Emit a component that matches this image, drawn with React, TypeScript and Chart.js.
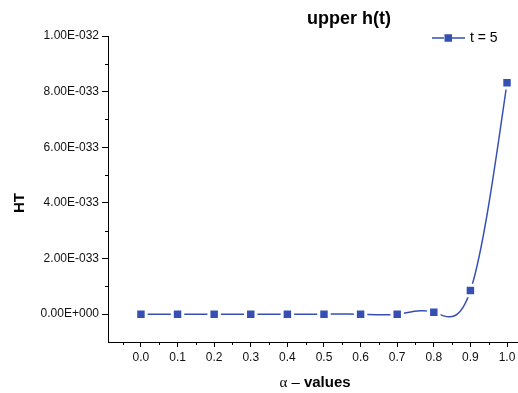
import React, { useEffect, useRef } from 'react';
import { Chart, registerables } from 'chart.js';

Chart.register(...registerables);

const ALPHA = [0.0, 0.1, 0.2, 0.3, 0.4, 0.5, 0.6, 0.7, 0.8, 0.9, 1.0];
const HT = [0, 0, 0, 0, 0, 0, 0, 0, 7e-35, 8.5e-34, 8.32e-33];
const X_TICKS = [0.0, 0.1, 0.2, 0.3, 0.4, 0.5, 0.6, 0.7, 0.8, 0.9, 1.0];
const X_MINOR = [-0.05, 0.05, 0.15, 0.25, 0.35, 0.45, 0.55, 0.65, 0.75, 0.85, 0.95];
const Y_TICKS = [0, 2e-33, 4e-33, 6e-33, 8e-33, 1e-32];
const Y_MINOR = [1e-33, 3e-33, 5e-33, 7e-33, 9e-33];
const TITLE = 'upper h(t)';
const SERIES_LABEL = 't = 5';
const Y_TITLE = 'HT';
const X_TITLE_PARTS = ['α', ' – ', 'values'];

const BLUE = '#3550B2';
const SANS = '"Liberation Sans", Arial, sans-serif';

function fmtE(v: number): string {
  if (v === 0) return '0.00E+000';
  const s = v.toExponential(2);
  const [m, e] = s.split('e');
  const sign = e[0] === '-' ? '-' : '+';
  const digits = e.replace(/^[+-]/, '').padStart(3, '0');
  return `${m}E${sign}${digits}`;
}

const splinePlugin = {
  id: 'naturalSpline',
  beforeDatasetsDraw(chart: any) {
    chart.data.datasets.forEach((_ds: any, di: number) => {
      const meta = chart.getDatasetMeta(di);
      const line: any = meta.dataset;
      if (!line) return;
      line.updateControlPoints(chart.chartArea, 'x');
      const pts: any[] = meta.data;
      const n = pts.length - 1;
      if (n < 2) return;
      const xs = pts.map((p) => p.x);
      const ys = pts.map((p) => p.y);
      const h: number[] = [];
      for (let i = 0; i < n; i++) h.push(xs[i + 1] - xs[i]);
      const M = new Array(n + 1).fill(0);
      const a: number[] = [], b: number[] = [], c: number[] = [], d: number[] = [];
      for (let i = 1; i < n; i++) {
        a.push(h[i - 1]);
        b.push(2 * (h[i - 1] + h[i]));
        c.push(h[i]);
        d.push(6 * ((ys[i + 1] - ys[i]) / h[i] - (ys[i] - ys[i - 1]) / h[i - 1]));
      }
      const m = b.length;
      for (let i = 1; i < m; i++) {
        const w = a[i] / b[i - 1];
        b[i] -= w * c[i - 1];
        d[i] -= w * d[i - 1];
      }
      const sol = new Array(m).fill(0);
      sol[m - 1] = d[m - 1] / b[m - 1];
      for (let i = m - 2; i >= 0; i--) sol[i] = (d[i] - c[i] * sol[i + 1]) / b[i];
      for (let i = 1; i < n; i++) M[i] = sol[i - 1];
      const D: number[] = [];
      for (let i = 0; i < n; i++) {
        D.push((ys[i + 1] - ys[i]) / h[i] - (h[i] * (2 * M[i] + M[i + 1])) / 6);
      }
      D.push((ys[n] - ys[n - 1]) / h[n - 1] + (h[n - 1] * (M[n - 1] + 2 * M[n])) / 6);
      for (let i = 0; i < n; i++) {
        pts[i].cp2x = xs[i] + h[i] / 3;
        pts[i].cp2y = ys[i] + (D[i] * h[i]) / 3;
        pts[i + 1].cp1x = xs[i + 1] - h[i] / 3;
        pts[i + 1].cp1y = ys[i + 1] - (D[i + 1] * h[i]) / 3;
      }
      line._path = undefined;
    });
  },
};

const decorPlugin = {
  id: 'decor',
  afterDraw(chart: any) {
    const ctx = chart.ctx as CanvasRenderingContext2D;
    const xs = chart.scales.x;
    const ys = chart.scales.y;
    const area = chart.chartArea;
    ctx.save();
    ctx.strokeStyle = '#000';
    ctx.lineWidth = 1;
    ctx.beginPath();
    Y_MINOR.forEach((v) => {
      const py = Math.round(ys.getPixelForValue(v)) + 0.5;
      ctx.moveTo(area.left - 3, py);
      ctx.lineTo(area.left, py);
    });
    X_MINOR.forEach((v) => {
      const px = Math.round(xs.getPixelForValue(v)) + 0.5;
      ctx.moveTo(px, area.bottom);
      ctx.lineTo(px, area.bottom + 3);
    });
    ctx.stroke();

    // title
    ctx.fillStyle = '#000';
    ctx.textAlign = 'center';
    ctx.textBaseline = 'middle';
    ctx.font = `bold 18px ${SANS}`;
    ctx.fillText(TITLE, 349, 19);

    // y title
    ctx.save();
    ctx.translate(20, 203);
    ctx.rotate(-Math.PI / 2);
    ctx.font = `bold 15px ${SANS}`;
    ctx.fillText(Y_TITLE, 0, 0);
    ctx.restore();

    // x title (mixed fonts)
    const fonts = [`15px "Liberation Serif", serif`, `15px ${SANS}`, `bold 15px ${SANS}`];
    let total = 0;
    const widths = X_TITLE_PARTS.map((t, i) => {
      ctx.font = fonts[i];
      const w = ctx.measureText(t).width;
      total += w;
      return w;
    });
    let x = 315 - total / 2;
    ctx.textAlign = 'left';
    ctx.textBaseline = 'alphabetic';
    X_TITLE_PARTS.forEach((t, i) => {
      ctx.font = fonts[i];
      ctx.fillText(t, x, 387);
      x += widths[i];
    });

    // legend
    const ly = 38;
    ctx.strokeStyle = BLUE;
    ctx.lineWidth = 1.5;
    ctx.beginPath();
    ctx.moveTo(432, ly);
    ctx.lineTo(444, ly);
    ctx.moveTo(452, ly);
    ctx.lineTo(465, ly);
    ctx.stroke();
    ctx.fillStyle = BLUE;
    ctx.fillRect(444.5, ly - 3.75, 7.5, 7.5);
    ctx.fillStyle = '#000';
    ctx.font = `14px ${SANS}`;
    ctx.textBaseline = 'middle';
    ctx.fillText(SERIES_LABEL, 470, ly);
    ctx.restore();
  },
};

export default function App() {
  const ref = useRef<HTMLCanvasElement>(null);
  useEffect(() => {
    if (!ref.current) return;
    const chart = new Chart(ref.current, {
      type: 'line',
      data: {
        datasets: [
          {
            label: SERIES_LABEL,
            data: ALPHA.map((a, i) => ({ x: a, y: HT[i] })),
            borderColor: BLUE,
            borderWidth: 1.5,
            backgroundColor: BLUE,
            pointStyle: 'rect',
            pointRadius: 7.4,
            pointBackgroundColor: BLUE,
            pointBorderColor: '#ffffff',
            pointBorderWidth: 3,
            tension: 0.4,
            fill: false,
            clip: false as any,
          },
        ],
      },
      options: {
        responsive: false,
        devicePixelRatio: 1,
        animation: false,
        events: [],
        layout: { autoPadding: false, padding: { left: 0, right: 0, top: 36, bottom: 0 } },
        plugins: { legend: { display: false }, title: { display: false }, tooltip: { enabled: false } },
        scales: {
          x: {
            type: 'linear',
            min: -0.09,
            max: 1.03,
            afterBuildTicks: (s: any) => {
              s.ticks = X_TICKS.map((v) => ({ value: v }));
            },
            afterFit: (s: any) => {
              s.height = 51;
              s.paddingLeft = 0;
              s.paddingRight = 0;
            },
            ticks: {
              autoSkip: false,
              maxRotation: 0,
              padding: 3,
              color: '#111',
              font: { family: SANS, size: 12 },
              callback: (v: any) => Number(v).toFixed(1),
            },
            grid: { drawOnChartArea: false, drawTicks: true, tickLength: 5, tickColor: '#000', tickWidth: 1 },
            border: { display: true, color: '#000', width: 1 },
          },
          y: {
            type: 'linear',
            min: -1e-33,
            max: 1e-32,
            afterBuildTicks: (s: any) => {
              s.ticks = Y_TICKS.map((v) => ({ value: v }));
            },
            afterFit: (s: any) => {
              s.width = 108;
              s.paddingTop = 0;
              s.paddingBottom = 0;
            },
            ticks: {
              padding: 3,
              color: '#111',
              font: { family: SANS, size: 12 },
              callback: (v: any) => fmtE(Number(v)),
            },
            grid: { drawOnChartArea: false, drawTicks: true, tickLength: 6, tickColor: '#000', tickWidth: 1 },
            border: { display: true, color: '#000', width: 1 },
          },
        },
      },
      plugins: [splinePlugin, decorPlugin],
    });
    return () => chart.destroy();
  }, []);
  return (
    <div style={{ position: 'absolute', left: 0, top: 0, width: 518, height: 393 }}>
      <canvas ref={ref} width={518} height={393} />
    </div>
  );
}
